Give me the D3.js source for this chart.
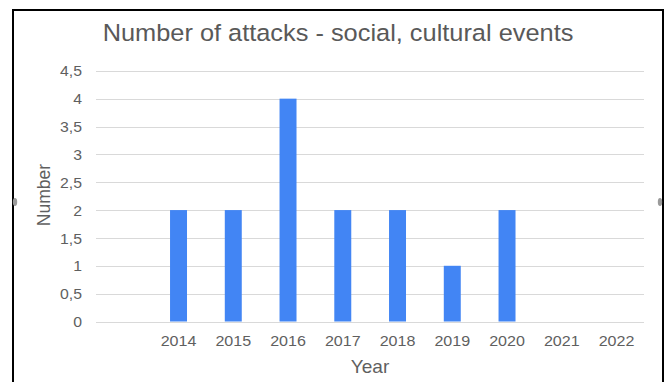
<!DOCTYPE html>
<html>
<head>
<meta charset="utf-8">
<script src="https://cdn.jsdelivr.net/npm/d3@7"></script>
<style>
  html, body { margin: 0; padding: 0; background: #fff; }
  svg { display: block; }
  text { font-family: "Liberation Sans", Arial, sans-serif; }
</style>
</head>
<body>
<svg id="chart" width="666" height="382"></svg>
<script>
// Chart data
const categories = ["", "2014", "2015", "2016", "2017", "2018", "2019", "2020", "2021", "2022"];
const attacks = [null, 2, 2, 4, 2, 2, 1, 2, null, null];
const yTicks = [0, 0.5, 1, 1.5, 2, 2.5, 3, 3.5, 4, 4.5];
const titleText = "Number of attacks - social, cultural events";
const xTitle = "Year";
const yTitle = "Number";

const svg = d3.select("#chart");
const stretch = 1.09; // text is drawn slightly wide

// frame around the chart
svg.append("rect")
  .attr("x", 13).attr("y", 10)
  .attr("width", 650).attr("height", 390)
  .attr("fill", "none").attr("stroke", "#000").attr("stroke-width", 2);

// resize handles on the frame's sides
svg.append("ellipse").attr("cx", 15).attr("cy", 202).attr("rx", 2.2).attr("ry", 4).attr("fill", "#9a9a9a");
svg.append("ellipse").attr("cx", 660).attr("cy", 202).attr("rx", 2.2).attr("ry", 4).attr("fill", "#9a9a9a");

const x = d3.scaleBand()
  .domain(categories.map((c, i) => i))
  .range([96.4, 643.9])
  .paddingInner(0.69).paddingOuter(0.345);

const y = d3.scaleLinear().domain([0, 4.5]).range([321.5, 70.8]);

// horizontal gridlines
svg.append("g")
  .selectAll("line").data(yTicks).join("line")
  .attr("x1", 96).attr("x2", 644)
  .attr("y1", d => Math.round(y(d)) + 0.5).attr("y2", d => Math.round(y(d)) + 0.5)
  .attr("stroke", "#d9d9d9").attr("stroke-width", 1);

// y axis labels
const fmt = d => String(d).replace(".", ",");
const yAxis = svg.append("g")
  .attr("transform", "translate(82,0)")
  .call(d3.axisLeft(y).tickValues(yTicks).tickFormat(fmt).tickSize(0).tickPadding(0));
yAxis.select(".domain").remove();
yAxis.selectAll("text")
  .attr("fill", "#5f5f5f").style("font-size", "14.5px")
  .style("font-family", "'Liberation Sans', Arial, sans-serif")
  .attr("dy", "0.35em")
  .attr("transform", `scale(${stretch},1)`);

// bars
svg.append("g")
  .selectAll("rect").data(attacks.map((v, i) => ({ v, i })).filter(d => d.v != null)).join("rect")
  .attr("x", d => x(d.i))
  .attr("width", x.bandwidth())
  .attr("y", d => y(d.v))
  .attr("height", d => y(0) - y(d.v))
  .attr("fill", "#4285f4");

// x axis labels
const xAxis = svg.append("g")
  .attr("transform", "translate(0,336)")
  .call(d3.axisBottom(x).tickFormat(i => categories[i]).tickSize(0).tickPadding(0));
xAxis.select(".domain").remove();
xAxis.selectAll("text")
  .attr("fill", "#5f5f5f").style("font-size", "14.5px")
  .style("font-family", "'Liberation Sans', Arial, sans-serif")
  .attr("dy", "0.71em")
  .attr("transform", `scale(${stretch + 0.02},1)`);

// titles
svg.append("text")
  .attr("transform", "translate(338,41) scale(1.08,1)")
  .attr("text-anchor", "middle")
  .attr("fill", "#595959").style("font-size", "23.5px")
  .text(titleText);

svg.append("text")
  .attr("transform", `translate(370,373) scale(${stretch},1)`)
  .attr("text-anchor", "middle")
  .attr("fill", "#5f5f5f").style("font-size", "17.5px")
  .text(xTitle);

svg.append("text")
  .attr("transform", "translate(50,195) rotate(-90)")
  .attr("text-anchor", "middle")
  .attr("fill", "#5f5f5f").style("font-size", "17.5px")
  .text(yTitle);
</script>
</body>
</html>
